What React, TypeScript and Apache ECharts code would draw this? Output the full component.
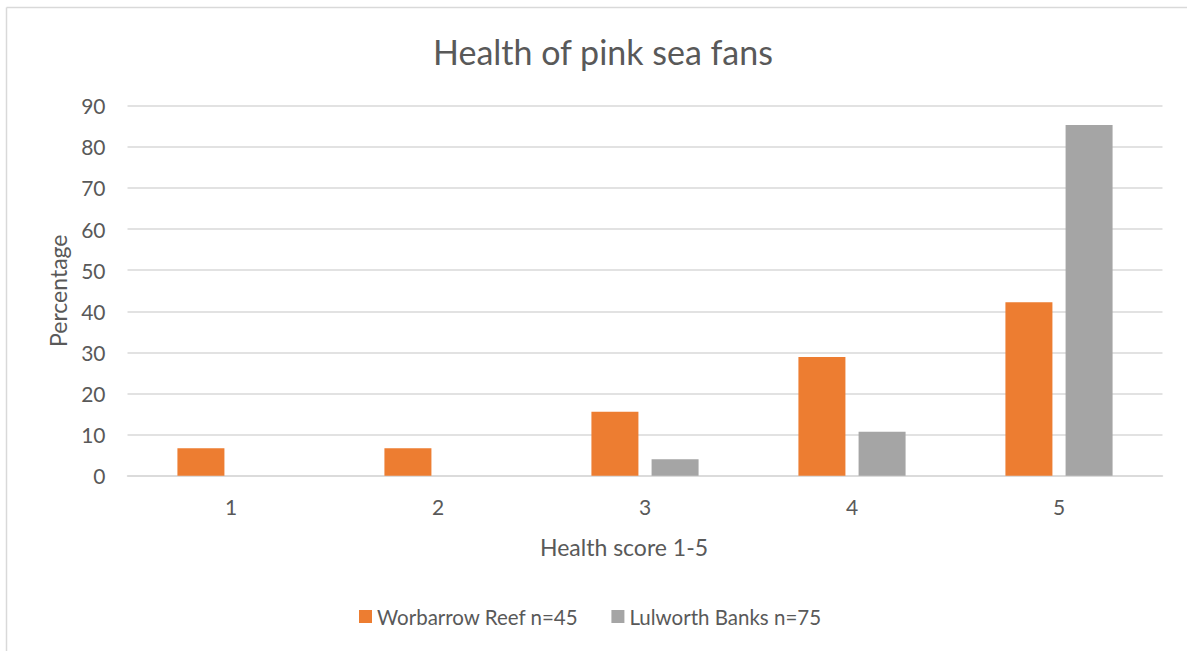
import React, { useEffect, useRef } from "react";
import * as echarts from "echarts";

// Health scores on the x axis
const categories = ["1", "2", "3", "4", "5"];
// Percentage of sea fans per score at each site
const worbarrow = [6.67, 6.67, 15.56, 28.89, 42.22];
const lulworth = [0, 0, 4.0, 10.67, 85.33];
const seriesNames = ["Worbarrow Reef n=45", "Lulworth Banks n=75"];

const TEXT = "#595959";
const GRID = "#d9d9d9";
const FONT = "Lato";

export default function App() {
  const ref = useRef<HTMLDivElement>(null);

  useEffect(() => {
    if (!ref.current) return;
    const chart = echarts.init(ref.current, undefined, { renderer: "svg" });
    chart.setOption({
      animation: false,
      backgroundColor: "#ffffff",
      title: {
        text: "Health of pink sea fans",
        left: 598,
        textAlign: "center",
        top: 29,
        textStyle: { color: TEXT, fontFamily: FONT, fontSize: 34, fontWeight: "normal" },
      },
      graphic: [
        { type: "line", shape: { x1: 6.5, y1: 7.5, x2: 1187, y2: 7.5 }, style: { stroke: GRID, lineWidth: 1.5 } },
        { type: "line", shape: { x1: 6.5, y1: 7.5, x2: 6.5, y2: 651 }, style: { stroke: GRID, lineWidth: 1.5 } },
      ],
      legend: {
        left: 354,
        top: 601,
        itemWidth: 13,
        itemHeight: 13,
        itemGap: 33,
        icon: "rect",
        textStyle: { color: TEXT, fontFamily: FONT, fontSize: 20.5 },
        data: seriesNames,
      },
      grid: { left: 127.5, right: 24.5, top: 105.7, bottom: 175.3, containLabel: false },
      xAxis: {
        type: "category",
        data: categories,
        name: "Health score 1-5",
        nameLocation: "middle",
        nameGap: 60,
        nameTextStyle: { color: TEXT, fontFamily: FONT, fontSize: 23, padding: [0, 42, 0, 0] },
        axisLine: { lineStyle: { color: GRID, width: 1.5 } },
        axisTick: { show: false },
        axisLabel: { color: TEXT, fontFamily: FONT, fontSize: 21, margin: 20 },
      },
      yAxis: {
        type: "value",
        min: 0,
        max: 90,
        interval: 10,
        name: "Percentage",
        nameLocation: "middle",
        nameGap: 58,
        nameTextStyle: { color: TEXT, fontFamily: FONT, fontSize: 23 },
        axisLine: { show: false },
        axisTick: { show: false },
        axisLabel: { color: TEXT, fontFamily: FONT, fontSize: 21, margin: 22 },
        splitLine: { lineStyle: { color: GRID, width: 1.5 } },
      },
      series: [
        {
          name: seriesNames[0],
          type: "bar",
          data: worbarrow,
          barWidth: 47,
          barGap: "28%",
          itemStyle: { color: "#ed7d31" },
        },
        {
          name: seriesNames[1],
          type: "bar",
          data: lulworth,
          barWidth: 47,
          barGap: "28%",
          itemStyle: { color: "#a5a5a5" },
        },
      ],
    });
    return () => chart.dispose();
  }, []);

  return (
    <div
      ref={ref}
      style={{ position: "absolute", left: 0, top: 0, width: 1187, height: 651 }}
    />
  );
}
